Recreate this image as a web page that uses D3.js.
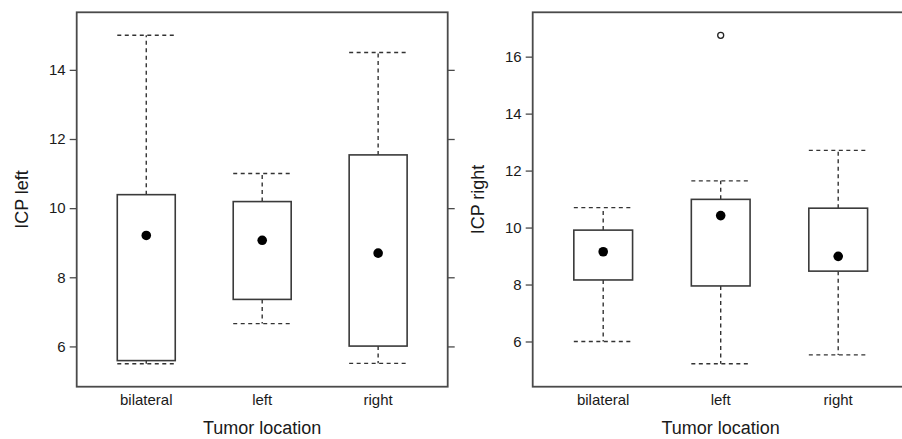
<!DOCTYPE html>
<html>
<head>
<meta charset="utf-8">
<script src="https://cdn.jsdelivr.net/npm/d3@7"></script>
<style>
  html, body { margin: 0; padding: 0; background: #fff; }
  svg text { font-family: "Liberation Sans", Arial, Helvetica, sans-serif; fill: #1a1a1a; }
</style>
</head>
<body>
<svg id="chart" width="902" height="439"></svg>
<script>
// ---- data ----
const categories = ["bilateral", "left", "right"];
// ICP left panel: [lower whisker, Q1, median, Q3, upper whisker]
const icpLeftLow    = [5.5, 6.66, 5.51];
const icpLeftQ1     = [5.59, 7.36, 6.01];
const icpLeftMedian = [9.21, 9.07, 8.70];
const icpLeftQ3     = [10.39, 10.19, 11.54];
const icpLeftHigh   = [15.0, 11.0, 14.5];
const icpLeftOutliers = [];
// ICP right panel
const icpRightLow    = [6.0, 5.22, 5.53];
const icpRightQ1     = [8.16, 7.95, 8.47];
const icpRightMedian = [9.15, 10.42, 8.99];
const icpRightQ3     = [9.91, 10.99, 10.68];
const icpRightHigh   = [10.70, 11.64, 12.71];
const icpRightOutliers = [{cat: "left", value: 16.75}];
const leftTicks = [6, 8, 10, 12, 14];
const rightTicks = [6, 8, 10, 12, 14, 16];

const svg = d3.select("#chart");
const frameColor = "#4a4a4a";

function panel(opts) {
  const {x0, x1, y0, y1, low, q1, med, q3, high, outliers, ticks, ylabel, labelX} = opts;
  const g = svg.append("g");
  const allVals = low.concat(high).concat(outliers.map(o => o.value));
  const mn = d3.min(allVals), mx = d3.max(allVals);
  const pad = (mx - mn) * 0.07;
  const y = d3.scaleLinear().domain([mn - pad, mx + pad]).range([y1, y0]);
  const xi = d3.scaleLinear().domain([0.4, 3.6]).range([x0, x1]);
  const x = c => xi(categories.indexOf(c) + 1);
  const halfW = (xi(1.25) - xi(1));

  // clip for drawing
  // y axis left
  const axL = d3.axisLeft(y).tickValues(ticks).tickSize(7).tickPadding(4).tickFormat(d3.format("d"));
  const gl = g.append("g").attr("transform", `translate(${x0},0)`).call(axL);
  gl.select(".domain").remove();
  gl.selectAll(".tick line").attr("stroke", frameColor).attr("stroke-width", 1.3);
  gl.selectAll(".tick text").style("font-size", "15px").attr("fill", "#1a1a1a");

  const axR = d3.axisRight(y).tickValues(ticks).tickSize(7).tickFormat("");
  const gr = g.append("g").attr("transform", `translate(${x1},0)`).call(axR);
  gr.select(".domain").remove();
  gr.selectAll(".tick line").attr("stroke", frameColor).attr("stroke-width", 1.3);

  // category labels
  g.selectAll(".cat").data(categories).join("text")
    .attr("x", d => x(d)).attr("y", y1 + 18.5)
    .attr("text-anchor", "middle").style("font-size", "15px").text(d => d);

  // frame
  g.append("rect").attr("x", x0).attr("y", y0).attr("width", x1 - x0).attr("height", y1 - y0)
    .attr("fill", "none").attr("stroke", frameColor).attr("stroke-width", 1.8);

  categories.forEach((c, i) => {
    const cx = x(c);
    const dash = "4,3.5";
    // whiskers
    g.append("line").attr("x1", cx).attr("x2", cx).attr("y1", y(q3[i])).attr("y2", y(high[i]))
      .attr("stroke", "#333").attr("stroke-width", 1.4).attr("stroke-dasharray", dash);
    g.append("line").attr("x1", cx).attr("x2", cx).attr("y1", y(q1[i])).attr("y2", y(low[i]))
      .attr("stroke", "#333").attr("stroke-width", 1.4).attr("stroke-dasharray", dash);
    // caps
    [low[i], high[i]].forEach(v => {
      g.append("line").attr("x1", cx - halfW).attr("x2", cx + halfW).attr("y1", y(v)).attr("y2", y(v))
        .attr("stroke", "#333").attr("stroke-width", 1.4).attr("stroke-dasharray", dash);
    });
    // box
    g.append("rect").attr("x", cx - halfW).attr("y", y(q3[i])).attr("width", 2 * halfW)
      .attr("height", y(q1[i]) - y(q3[i]))
      .attr("fill", "#fff").attr("stroke", "#3a3a3a").attr("stroke-width", 1.6);
    // median dot
    g.append("circle").attr("cx", cx).attr("cy", y(med[i])).attr("r", 4.8).attr("fill", "#000");
  });

  outliers.forEach(o => {
    g.append("circle").attr("cx", x(o.cat)).attr("cy", y(o.value)).attr("r", 3)
      .attr("fill", "none").attr("stroke", "#222").attr("stroke-width", 1.3);
  });

  // axis titles
  g.append("text").attr("x", (x0 + Math.min(x1, 902 + (x1 - 902))) / 2).attr("y", 434)
    .attr("text-anchor", "middle").style("font-size", "18px").text("Tumor location")
    .attr("x", xi(2));
  g.append("text").attr("transform", `translate(${labelX},${(y0 + y1) / 2}) rotate(-90)`)
    .attr("text-anchor", "middle").style("font-size", "18px").text(ylabel);
}

panel({x0: 76.7, x1: 447.7, y0: 12.3, y1: 386.7,
  low: icpLeftLow, q1: icpLeftQ1, med: icpLeftMedian, q3: icpLeftQ3, high: icpLeftHigh,
  outliers: icpLeftOutliers, ticks: leftTicks, ylabel: "ICP left", labelX: 28});
panel({x0: 532.7, x1: 908.7, y0: 12.3, y1: 386.7,
  low: icpRightLow, q1: icpRightQ1, med: icpRightMedian, q3: icpRightQ3, high: icpRightHigh,
  outliers: icpRightOutliers, ticks: rightTicks, ylabel: "ICP right", labelX: 484});
</script>
</body>
</html>
